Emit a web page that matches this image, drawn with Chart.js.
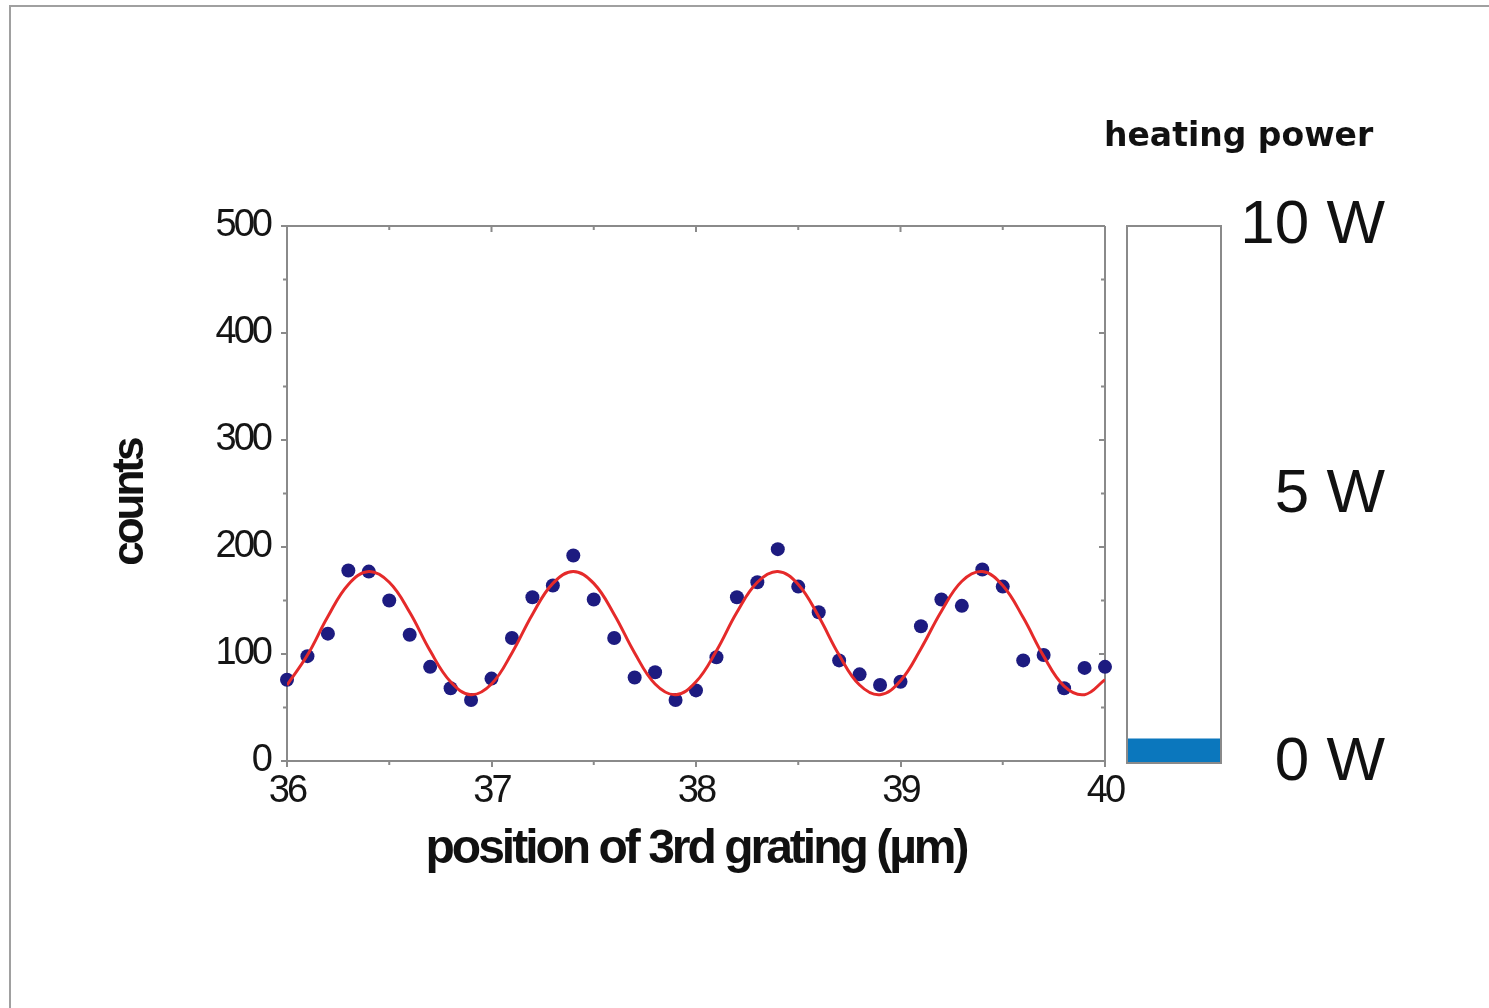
<!DOCTYPE html>
<html>
<head>
<meta charset="utf-8">
<title>counts vs position of 3rd grating</title>
<script src="https://cdn.jsdelivr.net/npm/chart.js@4.4.1/dist/chart.umd.min.js"></script>
<style>
  html, body { margin: 0; padding: 0; background: #fff; overflow: hidden; }
  body { width: 1489px; height: 1008px; position: relative; }
  #frame { position: absolute; left: 9px; top: 5px; width: 1500px; height: 1020px;
           border-top: 2px solid #a0a0a0; border-left: 2px solid #a0a0a0; }
  #mainBox { position: absolute; left: 0; top: 0; width: 1489px; height: 1008px; }
  #powerBox { position: absolute; left: 1084px; top: 90px; width: 306px; height: 745px; }
</style>
</head>
<body>
<div id="frame"></div>
<div id="mainBox"><canvas id="countsChart"></canvas></div>
<div id="powerBox"><canvas id="powerChart"></canvas></div>

<script>
// measured points (position in µm, counts)
const positions = [36.0, 36.1, 36.2, 36.3, 36.4, 36.5, 36.6, 36.7, 36.8, 36.9,
                   37.0, 37.1, 37.2, 37.3, 37.4, 37.5, 37.6, 37.7, 37.8, 37.9,
                   38.0, 38.1, 38.2, 38.3, 38.4, 38.5, 38.6, 38.7, 38.8, 38.9,
                   39.0, 39.1, 39.2, 39.3, 39.4, 39.5, 39.6, 39.7, 39.8, 39.9, 40.0];
const counts = [76, 98, 119, 178, 177, 150, 118, 88, 68, 57,
                77, 115, 153, 164, 192, 151, 115, 78, 83, 57,
                66, 97, 153, 167, 198, 163, 139, 94, 81, 71,
                74, 126, 151, 145, 179, 163, 94, 99, 68, 87, 88];

// red fit curve at the same positions
const fitCounts = [71, 99, 135, 165, 177, 167, 139, 103, 74, 62,
                   72, 101, 137, 166, 177, 166, 137, 101, 72, 62,
                   74, 103, 139, 167, 177, 165, 135, 99, 71, 62,
                   75, 105, 140, 168, 177, 164, 134, 98, 70, 62, 76];

const xTicks = [36, 37, 38, 39, 40];
const yTicks = [0, 100, 200, 300, 400, 500];

// heating power bar
const powerLabels = ['heating power'];
const powerValues = [0.45];
const powerTicks = [0, 5, 10];

const FONT = "'Liberation Sans', Arial, sans-serif";
const axisGray = '#8a8a8a';

/**
 * Сжатый шрифт: отрицательный межбуквенный интервал
 */
const condensed = {
  id: 'condensed',
  beforeUpdate(chart) { chart.ctx.letterSpacing = '-3px'; },
  beforeDraw(chart) { chart.ctx.letterSpacing = '-3px'; }
};

/**
 * Рамка графика и зеркальные/мелкие засечки
 */
const frameTicks = {
  id: 'frameTicks',
  beforeDatasetsDraw(chart) {
    const { ctx, chartArea: a, scales: { x, y } } = chart;
    ctx.save();
    ctx.strokeStyle = axisGray;
    ctx.lineWidth = 2;
    ctx.beginPath();
    ctx.moveTo(a.left, a.top); ctx.lineTo(a.right, a.top);
    ctx.moveTo(a.right, a.top); ctx.lineTo(a.right, a.bottom);
    // major ticks, inside on top and right
    xTicks.forEach(v => {
      const px = x.getPixelForValue(v);
      ctx.moveTo(px, a.top); ctx.lineTo(px, a.top + 6);
    });
    yTicks.forEach(v => {
      const py = y.getPixelForValue(v);
      ctx.moveTo(a.right, py); ctx.lineTo(a.right - 6, py);
    });
    // minor ticks
    for (let v = 36.5; v < 40; v += 1) {
      const px = x.getPixelForValue(v);
      ctx.moveTo(px, a.bottom); ctx.lineTo(px, a.bottom + 4);
      ctx.moveTo(px, a.top); ctx.lineTo(px, a.top + 4);
    }
    for (let v = 50; v < 500; v += 100) {
      const py = y.getPixelForValue(v);
      ctx.moveTo(a.left, py); ctx.lineTo(a.left - 4, py);
      ctx.moveTo(a.right, py); ctx.lineTo(a.right - 4, py);
    }
    ctx.stroke();
    ctx.restore();
  }
};

const boxBorder = {
  id: 'boxBorder',
  afterDatasetsDraw(chart) {
    const { ctx, chartArea: a } = chart;
    ctx.save();
    ctx.strokeStyle = axisGray;
    ctx.lineWidth = 2;
    ctx.strokeRect(a.left, a.top, a.right - a.left, a.bottom - a.top);
    ctx.restore();
  }
};

new Chart(document.getElementById('countsChart'), {
  data: {
    datasets: [
      {
        type: 'line',
        label: 'fit',
        data: positions.map((p, i) => ({ x: p, y: fitCounts[i] })),
        borderColor: '#e52a2a',
        borderWidth: 3,
        pointRadius: 0,
        tension: 0.4,
        fill: false,
        order: 0
      },
      {
        type: 'scatter',
        label: 'counts',
        data: positions.map((p, i) => ({ x: p, y: counts[i] })),
        backgroundColor: '#1d1b80',
        borderWidth: 0,
        pointRadius: 7,
        clip: false,
        order: 1
      }
    ]
  },
  options: {
    responsive: true,
    maintainAspectRatio: false,
    animation: false,
    layout: { padding: { left: 104, right: 384, top: 226, bottom: 129 } },
    plugins: { legend: { display: false }, tooltip: { enabled: false } },
    scales: {
      x: {
        type: 'linear',
        min: 36,
        max: 40,
        afterFit: s => { s.height = 118; },
        afterBuildTicks: s => { s.ticks = xTicks.map(v => ({ value: v })); },
        ticks: {
          font: { family: FONT, size: 38 },
          color: '#151515',
          padding: 2,
          maxRotation: 0
        },
        grid: { drawOnChartArea: false, color: axisGray, tickLength: 6, lineWidth: 2 },
        border: { color: axisGray, width: 2 },
        title: {
          display: true,
          text: 'position of 3rd grating (µm)',
          font: { family: FONT, size: 48, weight: 'bold' },
          color: '#111',
          padding: { top: 0, bottom: 0 }
        }
      },
      y: {
        min: 0,
        max: 500,
        afterFit: s => { s.width = 183; },
        afterBuildTicks: s => { s.ticks = yTicks.map(v => ({ value: v })); },
        ticks: {
          font: { family: FONT, size: 38 },
          color: '#151515',
          padding: 11
        },
        grid: { drawOnChartArea: false, color: axisGray, tickLength: 6, lineWidth: 2 },
        border: { color: axisGray, width: 2 },
        title: {
          display: true,
          text: 'counts  ',
          font: { family: FONT, size: 44, weight: 'bold' },
          color: '#111',
          padding: { top: 0, bottom: 0 }
        }
      }
    }
  },
  plugins: [condensed, frameTicks]
});

new Chart(document.getElementById('powerChart'), {
  type: 'bar',
  data: {
    labels: powerLabels,
    datasets: [{
      data: powerValues,
      yAxisID: 'y',
      backgroundColor: '#0b77bd',
      borderWidth: 0,
      barPercentage: 1,
      categoryPercentage: 1
    }]
  },
  options: {
    responsive: true,
    maintainAspectRatio: false,
    animation: false,
    layout: { padding: { left: 20, right: 5, top: 0, bottom: 72 } },
    plugins: {
      legend: { display: false },
      tooltip: { enabled: false },
      title: {
        display: true,
        text: 'heating power',
        align: 'start',
        font: { family: "'DejaVu Sans', sans-serif", size: 33, weight: 'bold' },
        color: '#111',
        padding: { top: 27.2, bottom: 69.2 }
      }
    },
    scales: {
      x: { display: false },
      spacer: {
        type: 'linear',
        position: 'left',
        afterFit: s => { s.width = 23; },
        ticks: { display: false },
        grid: { display: false },
        border: { display: false }
      },
      y: {
        position: 'right',
        min: 0,
        max: 10,
        afterFit: s => { s.width = 164; },
        afterBuildTicks: s => { s.ticks = powerTicks.map(v => ({ value: v })); },
        ticks: {
          font: { family: FONT, size: 62 },
          color: '#111',
          padding: 19,
          crossAlign: 'far',
          callback: v => v + ' W'
        },
        grid: { display: false },
        border: { display: false }
      }
    }
  },
  plugins: [boxBorder]
});
</script>
</body>
</html>
